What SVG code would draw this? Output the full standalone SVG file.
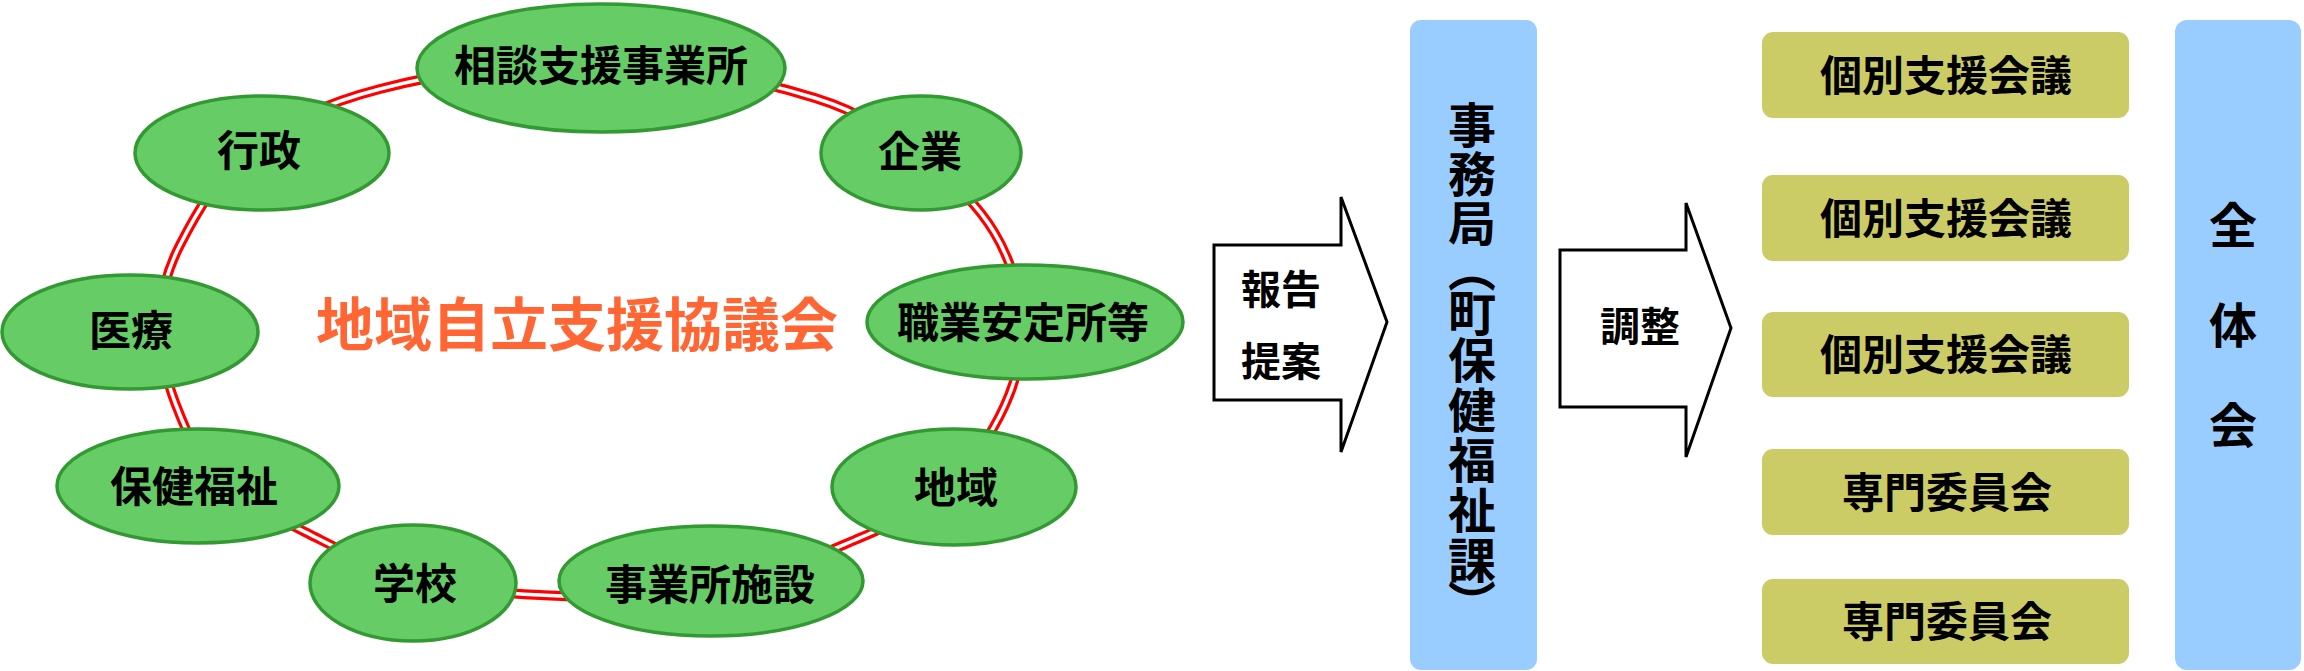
<svg xmlns="http://www.w3.org/2000/svg" width="2304" height="671" viewBox="0 0 2304 671">
<style>
.t{font-family:"Noto Sans CJK JP","Noto Sans CJK SC",sans-serif;font-weight:bold;fill:#000;text-anchor:middle}
.n{font-size:42px}
.a{font-size:40px}
.v{font-size:48px}
.node{fill:#66CC66;stroke:#339933;stroke-width:3.5}
.box{fill:#CCCC66}
.blue{fill:#99CCFF}
.arrow{fill:#fff;stroke:#000;stroke-width:3;stroke-linejoin:miter}
.title{font-family:"Noto Sans CJK JP","Noto Sans CJK SC",sans-serif;font-weight:bold;font-size:58px;fill:#FF6633;text-anchor:middle}
.ring{fill:none}
</style>
<defs>
<path id="ringpath" d="M380,89 C438.5,74 528.5,58.5 601,60 C673.5,61.5 761,81.3 815,98 C869,114.7 895.2,137.7 925,160 C954.8,182.3 977.8,205.3 994,232 C1010.2,258.7 1020.2,291.2 1022,320 C1023.8,348.8 1017.8,376.7 1005,405 C992.2,433.3 970,467.5 945,490 C920,512.5 895,523 855,540 C815,557 757.5,582.8 705,592 C652.5,601.2 588.7,597.3 540,595 C491.3,592.7 450.5,587.7 413,578 C375.5,568.3 347.2,553.3 315,537 C282.8,520.7 243.2,502 220,480 C196.8,458 186,430.8 176,405 C166,379.2 159.3,351.7 160,325 C160.7,298.3 165,274.2 180,245 C195,215.8 216.7,176 250,150 C283.3,124 321.5,104 380,89 Z"/>
</defs>
<rect width="2304" height="671" fill="#fff"/>
<g id="connectors">
<use href="#ringpath" class="ring" stroke="#FF0000" stroke-width="10"/>
<use href="#ringpath" class="ring" stroke="#FFFFFF" stroke-width="3.5"/>
</g>
<g id="node-soudan"><ellipse class="node" cx="601" cy="68" rx="184" ry="64"/><text class="t n" x="601" y="81">相談支援事業所</text></g>
<g id="node-gyousei"><ellipse class="node" cx="262" cy="153" rx="127" ry="57"/><text class="t n" x="259" y="166">行政</text></g>
<g id="node-kigyou"><ellipse class="node" cx="921" cy="153" rx="100" ry="57"/><text class="t n" x="920" y="167">企業</text></g>
<g id="node-iryou"><ellipse class="node" cx="130" cy="332" rx="128" ry="57"/><text class="t n" x="131" y="346">医療</text></g>
<g id="node-shokugyou"><ellipse class="node" cx="1025" cy="322" rx="158" ry="57"/><text class="t n" x="1023" y="338">職業安定所等</text></g>
<g id="node-hoken"><ellipse class="node" cx="198" cy="486" rx="141" ry="57"/><text class="t n" x="194" y="502">保健福祉</text></g>
<g id="node-chiiki"><ellipse class="node" cx="954" cy="487" rx="122" ry="58"/><text class="t n" x="956" y="503">地域</text></g>
<g id="node-gakkou"><ellipse class="node" cx="413" cy="583" rx="103" ry="58"/><text class="t n" x="415" y="599">学校</text></g>
<g id="node-jigyousho"><ellipse class="node" cx="711" cy="581" rx="152" ry="55"/><text class="t n" x="710" y="600">事業所施設</text></g>
<g id="title"><text class="title" x="577" y="346">地域自立支援協議会</text></g>
<g id="arrow-houkoku">
<path class="arrow" d="M1214,245 L1341,245 L1341,197 L1387,322 L1341,452 L1341,400 L1214,400 Z"/>
<text class="t a" x="1281" y="304">報告</text>
<text class="t a" x="1281" y="376">提案</text>
</g>
<g id="node-jimukyoku">
<rect class="blue" x="1410" y="20" width="127" height="650" rx="11"/>
<text class="t v" x="1472" y="143">事</text>
<text class="t v" x="1472" y="192">務</text>
<text class="t v" x="1472" y="241">局</text>
<text class="t v" x="1472" y="287" transform="rotate(90 1472 269)">（</text>
<text class="t v" x="1472" y="331">町</text>
<text class="t v" x="1472" y="378">保</text>
<text class="t v" x="1472" y="428">健</text>
<text class="t v" x="1472" y="478">福</text>
<text class="t v" x="1472" y="528">祉</text>
<text class="t v" x="1472" y="578">課</text>
<text class="t v" x="1472" y="621" transform="rotate(90 1472 603)">）</text>
</g>
<g id="arrow-chousei">
<path class="arrow" d="M1560,250 L1686,250 L1686,203 L1731,328 L1686,457 L1686,407 L1560,407 Z"/>
<text class="t a" x="1640" y="341">調整</text>
</g>
<g id="box-kobetsu1"><rect class="box" x="1762" y="32" width="367" height="86" rx="11"/><text class="t n" x="1946" y="91">個別支援会議</text></g>
<g id="box-kobetsu2"><rect class="box" x="1762" y="175" width="367" height="86" rx="11"/><text class="t n" x="1946" y="234">個別支援会議</text></g>
<g id="box-kobetsu3"><rect class="box" x="1762" y="312" width="367" height="85" rx="11"/><text class="t n" x="1946" y="370">個別支援会議</text></g>
<g id="box-senmon1"><rect class="box" x="1762" y="449" width="367" height="86" rx="11"/><text class="t n" x="1947" y="508">専門委員会</text></g>
<g id="box-senmon2"><rect class="box" x="1762" y="579" width="367" height="85" rx="11"/><text class="t n" x="1947" y="637">専門委員会</text></g>
<g id="node-zentaikai">
<rect class="blue" x="2175" y="20" width="126" height="650" rx="12"/>
<text class="t v" x="2233" y="243">全</text>
<text class="t v" x="2233" y="343">体</text>
<text class="t v" x="2233" y="443">会</text>
</g>
</svg>
